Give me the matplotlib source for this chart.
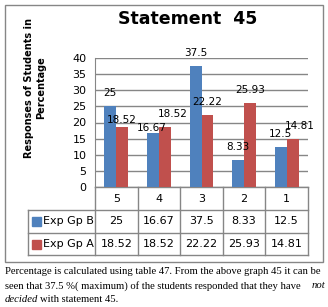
import matplotlib.pyplot as plt
import matplotlib.transforms as mtransforms
from matplotlib.patches import Rectangle

# chart data
categories = ['5', '4', '3', '2', '1']
exp_gp_b = [25, 16.67, 37.5, 8.33, 12.5]
exp_gp_a = [18.52, 18.52, 22.22, 25.93, 14.81]
series_names = ['Exp Gp B', 'Exp Gp A']
y_ticks = [0, 5, 10, 15, 20, 25, 30, 35, 40]

blue = '#4F81BD'
red = '#C0504D'
grid_col = '#868686'

W, H = 328, 307
fig = plt.figure(figsize=(W / 100, H / 100), dpi=100)

def fx(px):
    return px / W

def fy(py):
    return 1 - py / H

# outer chart border
fig.patches.append(Rectangle((fx(5), fy(262)), fx(318), 257 / H, transform=fig.transFigure,
                             fill=False, edgecolor=grid_col, lw=1))

ax = fig.add_axes([fx(95), fy(187), fx(213), 129 / H])
x = list(range(len(categories)))
bw = 0.28
ax.bar([i - bw / 2 for i in x], exp_gp_b, bw, color=blue, zorder=3)
ax.bar([i + bw / 2 for i in x], exp_gp_a, bw, color=red, zorder=3)
ax.set_xlim(-0.5, 4.5)
ax.set_ylim(0, 40)
ax.set_yticks(y_ticks)
ax.set_yticklabels([str(t) for t in y_ticks], fontsize=8)
ax.tick_params(axis='y', length=0, pad=6)
ax.set_xticks([])
ax.grid(axis='y', color=grid_col, lw=1, zorder=0)
for s in ['top', 'right', 'bottom']:
    ax.spines[s].set_visible(False)
ax.spines['left'].set_color(grid_col)

# data labels (Excel nudges a few to avoid overlaps)
nudge_b = {1: (-1, -8)}
nudge_a = {0: (-1, -6), 1: (8, 0), 4: (7, 0)}
for i, v in enumerate(exp_gp_b):
    dx, dy = nudge_b.get(i, (0, 0))
    ax.annotate(str(v), (i - bw / 2, v), xytext=(dx, 8 + dy), textcoords='offset pixels',
                ha='center', va='bottom', fontsize=7.5)
for i, v in enumerate(exp_gp_a):
    dx, dy = nudge_a.get(i, (0, 0))
    ax.annotate(str(v), (i + bw / 2, v), xytext=(dx, 8 + dy), textcoords='offset pixels',
                ha='center', va='bottom', fontsize=7.5)

# data table under the axis
tr = mtransforms.blended_transform_factory(ax.transData, fig.transFigure)
row_y = [187, 210, 233, 255]
for xv in [-0.5, 0.5, 1.5, 2.5, 3.5, 4.5]:
    ax.plot([xv, xv], [fy(row_y[0]), fy(row_y[-1])], transform=tr, color=grid_col, lw=1, clip_on=False)
fig.lines.append(plt.Line2D([fx(28), fx(28)], [fy(210), fy(255)], transform=fig.transFigure, color=grid_col, lw=1))
for py in row_y[1:]:
    fig.lines.append(plt.Line2D([fx(28), fx(308)], [fy(py), fy(py)], transform=fig.transFigure, color=grid_col, lw=1))
ax.plot([-0.5, 4.5], [fy(187), fy(187)], transform=tr, color=grid_col, lw=1, clip_on=False)

for i, c in enumerate(categories):
    ax.text(i, fy(198.5), c, transform=tr, ha='center', va='center', fontsize=8)
for r, (name, vals, col) in enumerate(zip(series_names, [exp_gp_b, exp_gp_a], [blue, red])):
    yc = fy((row_y[r + 1] + row_y[r + 2]) / 2)
    for i, v in enumerate(vals):
        ax.text(i, yc, str(v), transform=tr, ha='center', va='center', fontsize=8)
    fig.patches.append(Rectangle((fx(32), yc - 4.5 / H), fx(9), 9 / H, transform=fig.transFigure,
                                 color=col))
    fig.text(fx(43), yc, name, ha='left', va='center', fontsize=8)

# title and axis label
fig.text(fx(188), fy(19), 'Statement  45', ha='center', va='center', fontsize=12.5, fontweight='bold')
fig.text(fx(35), fy(88), 'Responses of Students in\nPercentage', rotation=90, ha='center', va='center',
         multialignment='center', fontsize=7, fontweight='bold', linespacing=1.3)

# caption below the chart
fs = 7.7
cap = dict(family='Liberation Serif', fontsize=fs, va='baseline')
fig.text(fx(5), fy(274.5), 'Percentage is calculated using table 47. From the above graph 45 it can be', **cap)
fig.text(fx(5), fy(288.5), 'seen that 37.5 %( maximum) of the students responded that they have', **cap)
fig.text(fx(325), fy(288.5), 'not', ha='right', style='italic', **cap)
t = fig.text(fx(5), fy(302.5), 'decided', style='italic', **cap)
plt.annotate('with statement 45.', xy=(1, 0), xycoords=t, xytext=(2, 0), textcoords='offset pixels',
             va='bottom', ha='left', family='Liberation Serif', fontsize=fs, annotation_clip=False)

fig.savefig('out.png', dpi=100)
